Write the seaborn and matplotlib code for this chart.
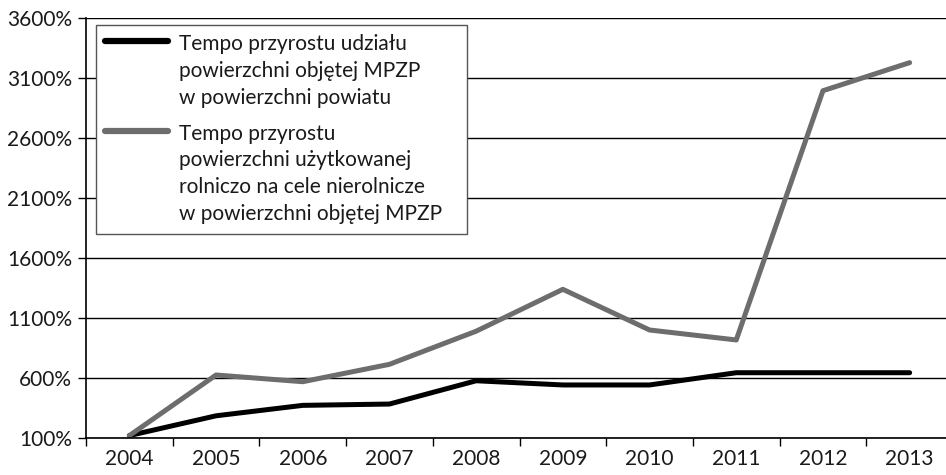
import matplotlib
matplotlib.use("Agg")
import matplotlib.pyplot as plt
from matplotlib.ticker import FixedLocator, FuncFormatter
import seaborn as sns
import pandas as pd

years = ["2004", "2005", "2006", "2007", "2008", "2009", "2010", "2011", "2012", "2013"]
share_growth = [120, 285, 372, 383, 577, 542, 542, 644, 644, 644]
agri_growth = [120, 625, 569, 714, 990, 1339, 1000, 917, 2994, 3228]
series_names = [
    "Tempo przyrostu udziału\npowierzchni objętej MPZP\nw powierzchni powiatu",
    "Tempo przyrostu\npowierzchni użytkowanej\nrolniczo na cele nierolnicze\nw powierzchni objętej MPZP",
]
y_ticks = [100, 600, 1100, 1600, 2100, 2600, 3100, 3600]

sns.set_theme(style="white")
plt.rcParams["font.family"] = ["Lato", "DejaVu Sans"]

df = pd.DataFrame({
    "pos": list(range(len(years))) * 2,
    "value": share_growth + agri_growth,
    "series": [series_names[0]] * len(years) + [series_names[1]] * len(years),
})

fig = plt.figure(figsize=(9.46, 4.75), dpi=100)
ax = fig.add_axes([86 / 946, 37 / 475, 867 / 946, 420 / 475])

sns.lineplot(data=df, x="pos", y="value", hue="series",
             palette=["#000000", "#6d6d6d"], linewidth=3.6, ax=ax,
             sort=False)

ax.set_xlim(-0.5, len(years) - 0.5)
ax.set_ylim(100, 3600)
ax.set_yticks(y_ticks)
ax.yaxis.set_major_formatter(FuncFormatter(lambda v, p: f"{int(v)}%"))
ax.set_xticks(range(len(years)))
ax.set_xticklabels(years)
ax.xaxis.set_minor_locator(FixedLocator([i - 0.5 for i in range(len(years) + 1)]))
ax.tick_params(axis="x", which="major", length=0, pad=8, labelsize=15, colors="#1a1a1a")
ax.tick_params(axis="x", which="minor", length=6, width=1, color="black", bottom=True, direction="out")
ax.tick_params(axis="y", which="major", length=6, width=1, color="black", left=True,
               direction="out", pad=4, labelsize=15, labelcolor="#1a1a1a")
ax.set_xlabel("")
ax.set_ylabel("")

ax.grid(axis="y", color="black", linewidth=1)
ax.set_axisbelow(True)
for s in ["top", "right"]:
    ax.spines[s].set_visible(False)
for s in ["left", "bottom"]:
    ax.spines[s].set_color("black")
    ax.spines[s].set_linewidth(1.2)

leg = ax.legend(loc="upper left",
                bbox_to_anchor=(10 / 867, 1 - 11 / 420, 371 / 867, 0.01),
                mode="expand",
                frameon=True, fancybox=False, fontsize=15, handlelength=3.0,
                handletextpad=0.55, labelspacing=0.75, borderpad=0.45,
                borderaxespad=0, title=None)
leg.get_frame().set_edgecolor("#555555")
leg.get_frame().set_linewidth(1.0)
leg.get_frame().set_facecolor("white")
leg.get_frame().set_alpha(1)
for line in leg.get_lines():
    line.set_linewidth(4.5)
for t in leg.get_texts():
    t.set_linespacing(1.43)
    t.set_color("#1a1a1a")
# align handles with the first line of each label
for col in leg._legend_handle_box.get_children():
    for hp in col.get_children():
        hp.align = "top"

fig.savefig("out.png", dpi=100)
